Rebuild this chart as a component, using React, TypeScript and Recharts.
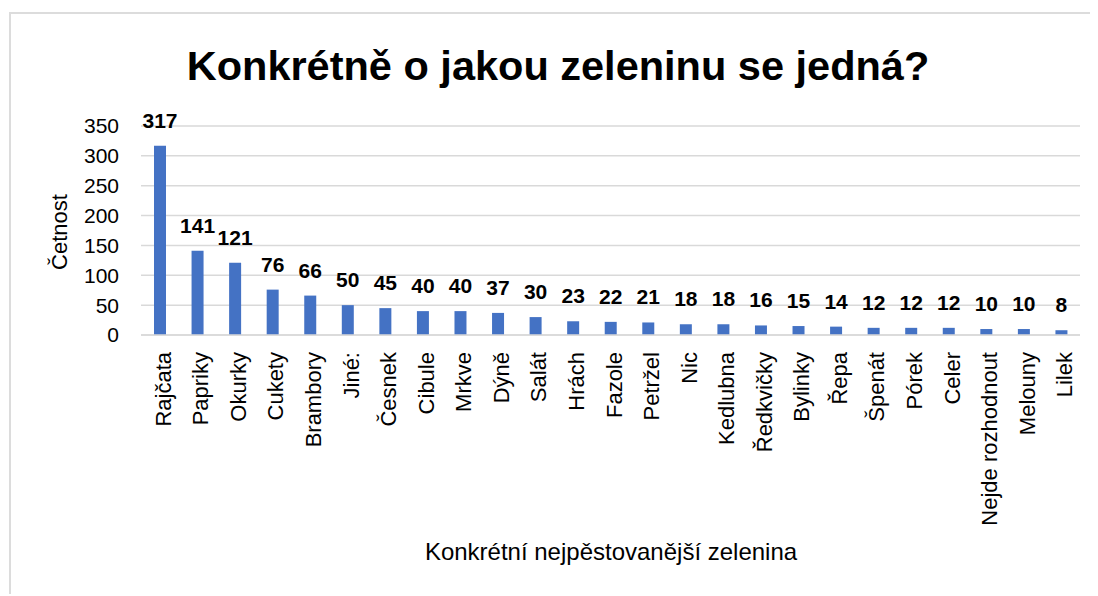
import React from 'react';
import { BarChart, Bar, XAxis, YAxis, CartesianGrid, LabelList } from 'recharts';

const categories = [
  'Rajčata', 'Papriky', 'Okurky', 'Cukety', 'Brambory', 'Jiné:', 'Česnek', 'Cibule', 'Mrkve', 'Dýně',
  'Salát', 'Hrách', 'Fazole', 'Petržel', 'Nic', 'Kedlubna', 'Ředkvičky', 'Bylinky', 'Řepa', 'Špenát',
  'Pórek', 'Celer', 'Nejde rozhodnout', 'Melouny', 'Lilek',
];
const values = [317, 141, 121, 76, 66, 50, 45, 40, 40, 37, 30, 23, 22, 21, 18, 18, 16, 15, 14, 12, 12, 12, 10, 10, 8];
const yTicks = [0, 50, 100, 150, 200, 250, 300, 350];

const title = 'Konkrétně o jakou zeleninu se jedná?';
const xTitle = 'Konkrétní nejpěstovanější zelenina';
const yTitle = 'Četnost';

const data = categories.map((c, i) => ({ name: c, value: values[i] }));

const FONT = '"Liberation Sans", Arial, sans-serif';
const W = 1085;
const H = 578;

const XTick = (props: any) => {
  const { x, y, payload } = props;
  return (
    <text
      x={x}
      y={y}
      transform={`rotate(-90, ${x}, ${y})`}
      textAnchor="end"
      dy={11}
      fontSize={22}
      fontFamily={FONT}
      fill="#000"
    >
      {payload.value}
    </text>
  );
};

export default function App() {
  return (
    <div
      style={{
        marginLeft: 1,
        marginTop: 4,
        width: W,
        height: H + 2,
        border: '2px solid #dcdcdc',
        borderRight: 'none',
        borderBottom: 'none',
        position: 'relative',
        background: '#fff',
        fontFamily: FONT,
      }}
    >
      <style>{'html, body { overflow: hidden; }'}</style>
      <BarChart
        width={W}
        height={H}
        data={data}
        margin={{ top: 112, right: 16, bottom: 0, left: 0 }}
        barCategoryGap={0}
      >
        <CartesianGrid vertical={false} stroke="#d9d9d9" strokeWidth={1.5} />
        <XAxis
          dataKey="name"
          interval={0}
          height={257}
          tickLine={false}
          axisLine={{ stroke: '#d9d9d9', strokeWidth: 1.5 }}
          tickSize={8}
          tickMargin={9}
          tick={<XTick />}
        />
        <YAxis
          width={130}
          domain={[0, 350]}
          ticks={yTicks}
          axisLine={false}
          tickLine={false}
          tickSize={0}
          tickMargin={22}
          tick={{ fontSize: 21, fill: '#000', fontFamily: FONT }}
        />
        <Bar dataKey="value" fill="#4472C4" barSize={12} isAnimationActive={false}>
          <LabelList
            dataKey="value"
            position="top"
            offset={18}
            style={{ fontSize: 21, fontWeight: 'bold', fill: '#000', fontFamily: FONT }}
          />
        </Bar>
      </BarChart>
      <svg
        width={W}
        height={H}
        style={{ position: 'absolute', left: 0, top: 0, pointerEvents: 'none' }}
      >
        <text x={547} y={66} textAnchor="middle" fontSize={41.5} fontWeight="bold" fontFamily={FONT} fill="#000">
          {title}
        </text>
        <text
          x={56}
          y={218}
          transform="rotate(-90, 56, 218)"
          textAnchor="middle"
          fontSize={22}
          fontFamily={FONT}
          fill="#000"
        >
          {yTitle}
        </text>
        <text x={600} y={546} textAnchor="middle" fontSize={24} fontFamily={FONT} fill="#000">
          {xTitle}
        </text>
      </svg>
    </div>
  );
}
